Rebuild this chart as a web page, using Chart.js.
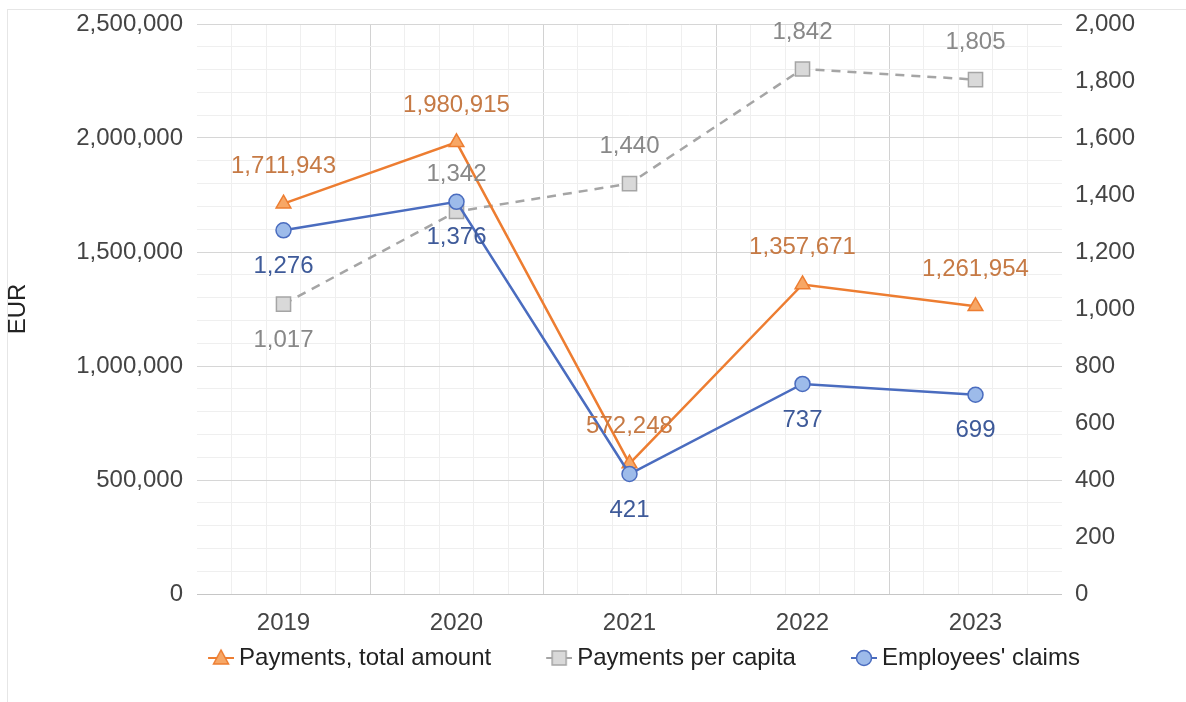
<!DOCTYPE html>
<html>
<head>
<meta charset="utf-8">
<title>Payments and employees' claims 2019–2023</title>
<script src="https://cdn.jsdelivr.net/npm/chart.js@4.4.1/dist/chart.umd.min.js"></script>
<style>
    html, body { margin: 0; padding: 0; background: #fff; }
    #wrap { position: relative; width: 1186px; height: 702px; overflow: hidden; }
    #frame { position: absolute; left: 7px; top: 9px; width: 1300px; height: 800px;
             border-left: 1px solid #e6e6e6; border-top: 1px solid #e6e6e6; }
    #chart { position: absolute; left: 0; top: 0; }
</style>
</head>
<body>
<div id="wrap">
    <div id="frame"></div>
    <canvas id="chart" width="1241" height="702"></canvas>
</div>
<script>
// Datos de la gráfica
const years = ['2019', '2020', '2021', '2022', '2023'];
const paymentsTotal = [1711943, 1980915, 572248, 1357671, 1261954];
const paymentsPerCapita = [1017, 1342, 1440, 1842, 1805];
const employeesClaims = [1276, 1376, 421, 737, 699];

// Ejes
const eurTicks = [0, 500000, 1000000, 1500000, 2000000, 2500000];
const capitaTicks = [0, 200, 400, 600, 800, 1000, 1200, 1400, 1600, 1800, 2000];

// Dónde va cada etiqueta de valor (encima o debajo del punto)
const paymentsTotalLabelPos = ['above', 'above', 'above', 'above', 'above'];
const perCapitaLabelPos = ['below', 'above', 'above', 'above', 'above'];
const claimsLabelPos = ['below', 'below', 'below', 'below', 'below'];

const FONT = "'Liberation Sans', Arial, sans-serif";
const SIZE = 24;
const fmt = v => Number(v).toLocaleString('en-US');

// Icono de leyenda: línea corta con el marcador encima (pegado a la derecha del lienzo)
function legendIcon(kind, line, fill) {
    const c = document.createElement('canvas');
    c.width = 80; c.height = 30;
    const g = c.getContext('2d');
    const cx = 67, cy = 15;
    g.strokeStyle = line;
    g.lineWidth = 2;
    g.beginPath(); g.moveTo(54, cy); g.lineTo(80, cy); g.stroke();
    g.fillStyle = fill;
    g.lineWidth = 1.5;
    g.beginPath();
    if (kind === 'triangle') {
        g.moveTo(cx, cy - 8); g.lineTo(cx + 7.5, cy + 6); g.lineTo(cx - 7.5, cy + 6); g.closePath();
    } else if (kind === 'rect') {
        g.rect(cx - 7, cy - 7, 14, 14);
    } else {
        g.arc(cx, cy, 7.5, 0, Math.PI * 2);
    }
    g.fill(); g.stroke();
    return c;
}

// Etiquetas de valor sobre los puntos
const valueLabels = {
    id: 'valueLabels',
    afterDatasetsDraw(chart) {
        const ctx = chart.ctx;
        ctx.save();
        ctx.font = SIZE + 'px ' + FONT;
        ctx.textAlign = 'center';
        ctx.textBaseline = 'middle';
        chart.data.datasets.forEach((ds, i) => {
            const meta = chart.getDatasetMeta(i);
            if (meta.hidden) return;
            ctx.fillStyle = ds.labelColor;
            meta.data.forEach((pt, j) => {
                const dy = ds.labelPos[j] === 'above' ? -37 : 36;
                ctx.fillText(fmt(ds.data[j]), pt.x, pt.y + dy);
            });
        });
        ctx.restore();
    }
};

const isWhole = v => Math.abs(v - Math.round(v)) < 1e-6;

// ancho fijo para los ejes verticales, sin margen extra arriba
const fixWidth = w => s => { s.width = w; s.paddingTop = 4; s.paddingBottom = 0; };

new Chart(document.getElementById('chart'), {
    type: 'line',
    data: {
        labels: years,
        datasets: [
            {
                label: 'Payments, total amount',
                data: paymentsTotal,
                yAxisID: 'y',
                order: 2,
                borderColor: '#ed7d31',
                borderWidth: 2.5,
                pointStyle: 'triangle',
                pointRadius: 8.5,
                pointBackgroundColor: '#f7a766',
                pointBorderColor: '#ed7d31',
                pointBorderWidth: 1.5,
                labelColor: '#c67a45',
                labelPos: paymentsTotalLabelPos,
                legendIcon: legendIcon('triangle', '#ed7d31', '#f7a766')
            },
            {
                label: 'Payments per capita',
                data: paymentsPerCapita,
                yAxisID: 'y1',
                order: 3,
                borderColor: '#a5a5a5',
                borderWidth: 2.5,
                borderDash: [9, 7],
                pointStyle: 'rect',
                pointRadius: 10,
                pointBackgroundColor: '#d9d9d9',
                pointBorderColor: '#a5a5a5',
                pointBorderWidth: 1.5,
                labelColor: '#888888',
                labelPos: perCapitaLabelPos,
                legendIcon: legendIcon('rect', '#a5a5a5', '#d9d9d9')
            },
            {
                label: "Employees' claims",
                data: employeesClaims,
                yAxisID: 'y1',
                order: 1,
                borderColor: '#4a6cbf',
                borderWidth: 2.5,
                pointStyle: 'circle',
                pointRadius: 7.5,
                pointBackgroundColor: '#9dbbea',
                pointBorderColor: '#4a6cbf',
                pointBorderWidth: 1.5,
                labelColor: '#3e5a99',
                labelPos: claimsLabelPos,
                legendIcon: legendIcon('circle', '#4a6cbf', '#9dbbea')
            }
        ]
    },
    options: {
        responsive: false,
        animation: false,
        layout: { padding: { top: 24, right: 0, bottom: 22, left: 0 } },
        scales: {
            x: {
                type: 'category',
                offset: true,
                grid: { display: false, drawTicks: false },
                border: { display: false },
                ticks: { color: '#444', font: { family: FONT, size: SIZE }, padding: 15 },
                afterFit: s => { s.height = 44; }
            },
            // rejilla fina vertical
            xGrid: {
                type: 'linear',
                position: 'bottom',
                min: 0, max: 5,
                ticks: { display: false, stepSize: 0.2 },
                border: { display: false },
                grid: {
                    drawTicks: false,
                    color: c => {
                        const v = c.tick.value;
                        if (v <= 0.001 || v >= 4.999) return 'rgba(0,0,0,0)';
                        return isWhole(v) ? '#d2d2d2' : '#efefef';
                    }
                },
                afterFit: s => { s.height = 0; }
            },
            y: {
                type: 'linear',
                position: 'left',
                min: 0, max: 2500000,
                afterBuildTicks: s => { s.ticks = eurTicks.map(v => ({ value: v })); },
                grid: { display: false, drawTicks: false },
                border: { display: false },
                ticks: { color: '#444', font: { family: FONT, size: SIZE }, padding: 14, callback: v => fmt(v) },
                title: { display: true, text: 'EUR', color: '#222', font: { family: FONT, size: SIZE }, padding: { top: 4, bottom: 0 } },
                afterFit: fixWidth(197)
            },
            // rejilla horizontal (principal + fina)
            yGrid: {
                type: 'linear',
                position: 'left',
                min: 0, max: 2500000,
                ticks: { display: false, stepSize: 100000 },
                border: { display: false },
                grid: {
                    drawTicks: false,
                    color: c => {
                        const v = c.tick.value;
                        if (v === 0) return '#c6c6c6';
                        return v % 500000 === 0 ? '#d6d6d6' : '#efefef';
                    }
                },
                afterFit: fixWidth(0)
            },
            y1: {
                type: 'linear',
                position: 'right',
                min: 0, max: 2000,
                afterBuildTicks: s => { s.ticks = capitaTicks.map(v => ({ value: v })); },
                grid: { display: false, drawTicks: false },
                border: { display: false },
                ticks: { color: '#444', font: { family: FONT, size: SIZE }, padding: 13, callback: v => fmt(v) },
                afterFit: fixWidth(179)
            }
        },
        plugins: {
            legend: {
                position: 'bottom',
                labels: {
                    usePointStyle: true,
                    pointStyleWidth: 66,
                    padding: 8,
                    color: '#222',
                    font: { family: FONT, size: SIZE },
                    sort: (a, b) => a.datasetIndex - b.datasetIndex,
                    generateLabels: chart => chart.data.datasets.map((ds, i) => ({
                        text: ds.label,
                        datasetIndex: i,
                        pointStyle: ds.legendIcon,
                        fillStyle: ds.pointBackgroundColor,
                        strokeStyle: ds.borderColor,
                        lineWidth: 0,
                        fontColor: '#222',
                        hidden: !chart.isDatasetVisible(i)
                    }))
                }
            },
            tooltip: { enabled: false }
        }
    },
    plugins: [valueLabels]
});
</script>
</body>
</html>
